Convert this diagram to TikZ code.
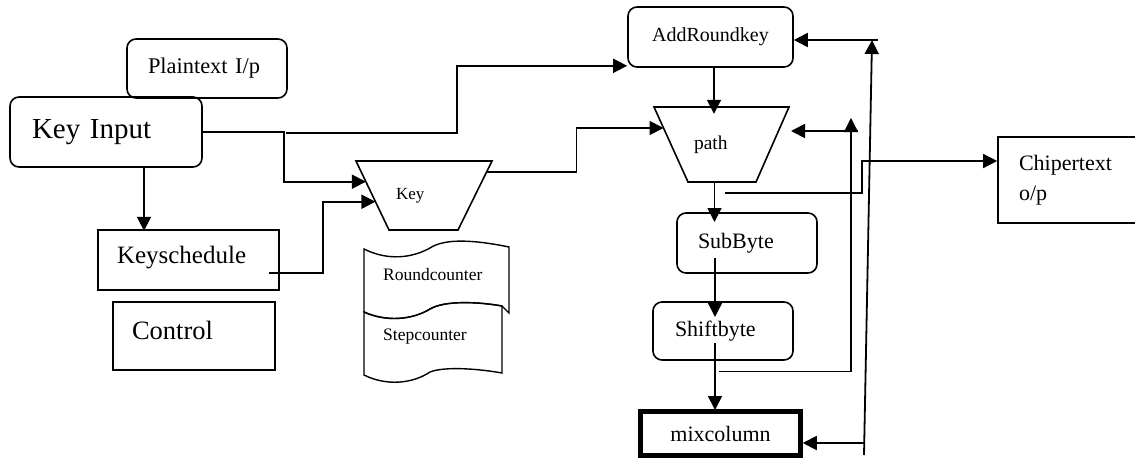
\documentclass[tikz,border=0pt]{standalone}
\usepackage{fontspec}
\setmainfont{Liberation Serif}
\usetikzlibrary{positioning, arrows.meta, calc}
\newcommand{\pxfont}[1]{\fontsize{#1}{#1}\selectfont}
\tikzset{
    >={Triangle[length=14pt, width=14pt]}, % filled arrow heads
    styleEdge/.style={->, line width=1.8pt}, % directed connectors
    styleThin/.style={->, line width=1.3pt},
}
\begin{document}
\begin{tikzpicture}[
        x=1pt, y=-1pt,
        styleBox/.style={draw, line width=1.6pt, inner ysep=0pt, align=left},
        styleRound/.style={styleBox, rounded corners=9pt},
        styleTrap/.style={inner ysep=0pt, outer sep=0pt, align=left},
        styleCount/.style={anchor=base west, inner sep=0pt, font=\pxfont{17.5}},
    ]
    \useasboundingbox (0,0) rectangle (1135,461);

    % left column
    \node[styleRound, minimum width=160pt, minimum height=59pt, text width=118pt, inner xsep=21pt, font=\pxfont{22.4}] (plain) at (207,68.5) {Plaintext I/p};
    \node[styleRound, minimum width=192pt, minimum height=70pt, text width=148pt, inner xsep=22pt, font=\pxfont{29}] (keyin) at (106,132) {Key Input};
    \node[styleBox, minimum width=181pt, minimum height=60pt, text width=143pt, inner xsep=19pt, text height=23pt, text depth=17pt, font=\pxfont{25}] (keysched) at (188.5,260) {Keyschedule};
    \node[styleBox, minimum width=162pt, minimum height=68pt, text width=124pt, inner xsep=19pt, text height=27pt, text depth=21pt, font=\pxfont{26.5}] (control) at (194,336) {Control};

    % key block and counters
    \node[styleTrap, minimum width=136pt, minimum height=69pt, text width=56pt, inner xsep=40pt, font=\pxfont{17}] (keyT) at (424,195.5) {Key};
    \draw[line width=1.6pt] (keyT.north west) -- (keyT.north east) -- ([xshift=-34pt]keyT.south east) -- ([xshift=33pt]keyT.south west) -- cycle;
    \draw[line width=1.4pt] (364,249) .. controls (388,261) and (412,258) .. (430,248)
        .. controls (445,238) and (475,240) .. (509,247) -- (509,313) -- (502,306)
        .. controls (480,302) and (445,300) .. (430,309) .. controls (412,320) and (386,322) .. (364,312) -- cycle;
    \draw[line width=1.4pt] (364,312) .. controls (386,322) and (412,320) .. (430,309)
        .. controls (445,300) and (480,302) .. (502,306) -- (502,373)
        .. controls (480,369) and (445,366) .. (430,372) .. controls (412,384) and (386,386) .. (364,375) -- cycle;
    \node[styleCount] (rcount) at (383,280) {Roundcounter};
    \node[styleCount] (scount) at (383,340) {Stepcounter};

    % round column
    \node[styleRound, minimum width=165pt, minimum height=60pt, align=center, font=\pxfont{20}] (addround) at (710.5,37) {AddRoundkey};
    \node[styleTrap, minimum width=135pt, minimum height=75pt, text width=55pt, inner xsep=40pt, font=\pxfont{19.5}] (pathT) at (721.5,144.5) {path};
    \draw[line width=1.6pt] (pathT.north west) -- (pathT.north east) -- ([xshift=-33pt]pathT.south east) -- ([xshift=34pt]pathT.south west) -- cycle;
    \node[styleRound, minimum width=140pt, minimum height=60pt, text width=98pt, inner xsep=21pt, font=\pxfont{22}] (subbyte) at (747,243) {SubByte};
    \node[styleRound, minimum width=140pt, minimum height=58pt, text width=96pt, inner xsep=22pt, font=\pxfont{22}] (shiftbyte) at (723,331) {Shiftbyte};
    \node[draw, line width=4.5pt, minimum width=160pt, minimum height=44pt, font=\pxfont{22}] (mixcol) at (720.5,433.5) {mixcolumn};
    \node[styleBox, minimum width=152pt, minimum height=86pt, text width=110pt, inner xsep=21pt, font=\fontsize{22}{30}\selectfont] (cipher) at (1074,180) {Chipertext\\o/p};

    % points on the slanted sides
    \coordinate (keyA) at ($(keyT.north west)!0.30!([xshift=33pt]keyT.south west)$);
    \coordinate (keyB) at ($(keyT.north west)!0.59!([xshift=33pt]keyT.south west)$);
    \coordinate (keyC) at ($(keyT.north east)!0.16!([xshift=-34pt]keyT.south east)$);
    \coordinate (pathA) at ($(pathT.north west)!0.28!([xshift=34pt]pathT.south west)$);
    \coordinate (kj) at (286,133);

    \draw[styleEdge] (keyin.east) -- ++(81,0) |- (keyA);
    \draw[styleEdge] (kj) -- ++(171,0) |- ([yshift=2pt]addround.south west);
    \draw[styleEdge] ([xshift=38pt]keyin.south) -- ++(0,63);
    \draw[styleEdge] ([xshift=-11pt,yshift=-13pt]keysched.east) -- ++(54,0) |- (keyB);
    \draw[styleEdge] (keyC) -- ++(90,0) |- (pathA);
    \draw[styleEdge] ([xshift=3.5pt]addround.south) -- ++(0,46);
    \draw[styleEdge] ([xshift=-7pt]pathT.south) -- ++(0,40);
    \draw[styleThin] ([xshift=-32pt,yshift=-15pt]subbyte.center) -- ++(0,59);
    \draw[styleEdge] ([xshift=-8pt,yshift=-12pt]shiftbyte.center) -- ++(0,67);
    \draw[styleThin] ([xshift=3.5pt,yshift=-11pt]pathT.south) -- ++(137,0) |- ([yshift=19pt]cipher.west);

    % feedback lines
    \coordinate (loopA) at (851,118);
    \coordinate (loopB) at (858,131);
    \coordinate (loopC) at (864,455);
    \coordinate (loopD) at (872,40);
    \coordinate (loopE) at (878,40);
    \coordinate (loopF) at (865,443);
    \draw[styleThin] ([xshift=-4pt,yshift=-11pt]shiftbyte.south) -| (loopA);
    \draw[styleEdge] (loopB) -- ([xshift=2pt,yshift=13.5pt]pathT.east);
    \draw[styleEdge] (loopC) -- (loopD);
    \draw[styleEdge] (loopE) -- ([yshift=-3pt]addround.east);
    \draw[styleEdge] (loopF) -- (mixcol.east |- loopF);
\end{tikzpicture}
\end{document}
